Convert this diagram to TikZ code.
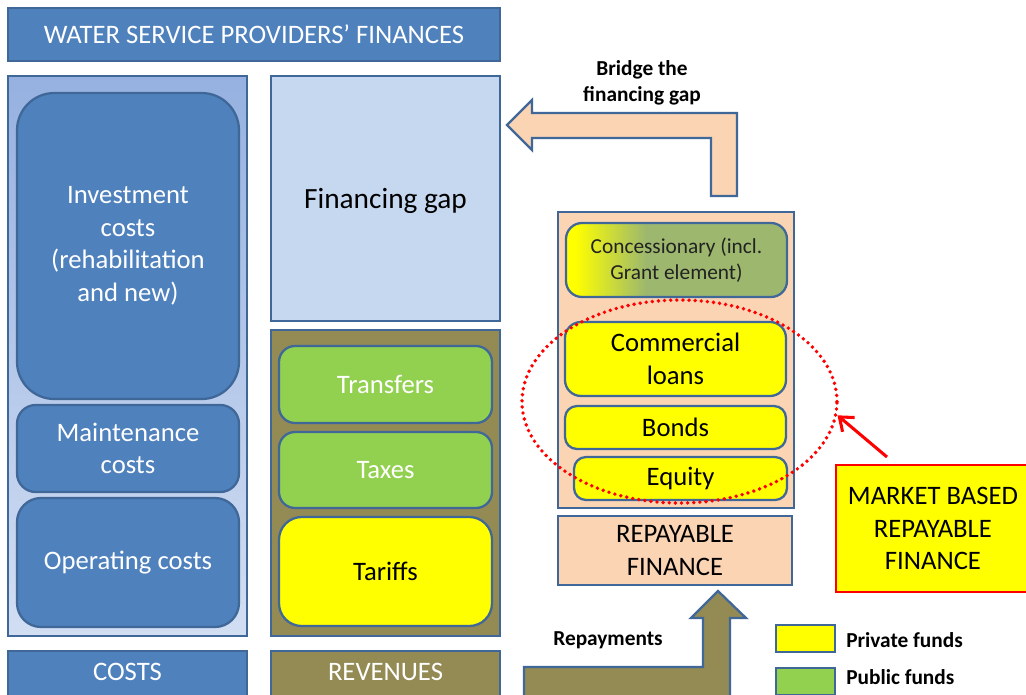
\documentclass[tikz,border=0pt]{standalone}
\usepackage{fontspec}
\setmainfont{Carlito}
\usetikzlibrary{fit,arrows.meta,shapes.geometric}
\definecolor{dblue}{HTML}{4F81BD}
\definecolor{bord}{HTML}{3F6798}
\definecolor{gaptint}{HTML}{C6D8F0}
\definecolor{coltop}{HTML}{96B1E0}
\definecolor{colbot}{HTML}{D2DEF2}
\definecolor{olive}{HTML}{948A54}
\definecolor{pgreen}{HTML}{92D050}
\definecolor{pyellow}{HTML}{FFFF00}
\definecolor{peach}{HTML}{FBD4B4}
\definecolor{concg}{HTML}{9DB86E}
\definecolor{mred}{HTML}{FF0000}
\definecolor{ctext}{HTML}{222222}
\pgfdeclarehorizontalshading{concshade}{100bp}{color(0bp)=(pyellow); color(27bp)=(pyellow); color(43bp)=(concg); color(100bp)=(concg)}
\tikzset{
  frame/.style={draw=bord, line width=1.7pt, inner sep=0pt},
  rbox/.style={frame, rounded corners=#1},
  rbox/.default=11pt,
  headbox/.style={frame, line width=1.4pt},
  tx/.style={inner sep=0pt, align=center, font=\fontsize{20}{24.4}\selectfont},
  wtx/.style={tx, text=white},
  btx/.style={tx, text=black},
  blockarrow/.style={draw=bord, line width=1.7pt, line join=miter},
  boldlabel/.style={font=\bfseries\fontsize{16}{19.5}\selectfont, align=center, inner sep=0pt},
  legbox/.style={draw=bord, line width=1.7pt, inner sep=0pt}
}
\begin{document}
\begin{tikzpicture}[x=0.75pt,y=-0.75pt]
\clip (0,0) rectangle (1026,694);
\fill[white] (0,0) rectangle (1026,694);

% title
\node[headbox, fill=dblue, fit={(8,8) (500,61)}] (title) {};
\node[wtx] (titleT) at (title.center) {WATER SERVICE PROVIDERS’ FINANCES};

% costs column
\node[frame, top color=coltop, bottom color=colbot, fit={(8,76) (247,636)}] (costcol) {};
\node[rbox=28pt, fill=dblue, fit={(17,93) (239,399)}] (invest) {};
\node[wtx] (investT) at (invest.center) {Investment\\costs\\(rehabilitation\\and new)};
\node[rbox=14pt, fill=dblue, fit={(17,405) (239,492)}] (maint) {};
\node[wtx] (maintT) at (maint.center) {Maintenance\\costs};
\node[rbox=18pt, fill=dblue, fit={(17,498) (239,627)}] (oper) {};
\node[wtx] (operT) at (oper.center) {Operating costs};
\node[headbox, fill=dblue, fit={(8,651) (247,697)}] (costs) {};
\node[wtx] (costsT) at ([yshift=1.5pt]costs.center) {COSTS};

% revenues column
\node[frame, fill=gaptint, fit={(271,76) (500,321)}] (gap) {};
\node[btx, font=\fontsize{22}{26}\selectfont] (gapT) at ([yshift=-2pt]gap.center) {Financing gap};
\node[frame, fill=olive, fit={(271,330) (500,636)}] (revcol) {};
\node[rbox=12pt, fill=pgreen, fit={(279,346) (492,423)}] (transfers) {};
\node[wtx] (transfersT) at (transfers.center) {Transfers};
\node[rbox=12pt, fill=pgreen, fit={(279,432) (492,508)}] (taxes) {};
\node[wtx] (taxesT) at (taxes.center) {Taxes};
\node[rbox=17pt, fill=pyellow, fit={(279,517) (492,626)}] (tariffs) {};
\node[btx] (tariffsT) at (tariffs.center) {Tariffs};
\node[headbox, fill=olive, fit={(271,651) (500,697)}] (revenues) {};
\node[wtx] (revenuesT) at ([yshift=1.5pt]revenues.center) {REVENUES};

% repayable finance column
\node[frame, fill=peach, fit={(558,212) (794,508)}] (repcol) {};
\node[rbox=12pt, shading=concshade, fit={(566,223) (787,297)}] (conc) {};
\node[btx, text=ctext, font=\fontsize{16}{19.5}\selectfont] (concT) at (conc.center) {Concessionary (incl.\\Grant element)};
\node[rbox=12pt, fill=pyellow, fit={(565,322) (786,396)}] (comm) {};
\node[btx] (commT) at (comm.center) {Commercial\\loans};
\node[rbox=9pt, fill=pyellow, fit={(565,406) (786,449)}] (bonds) {};
\node[btx] (bondsT) at (bonds.center) {Bonds};
\node[rbox=9pt, fill=pyellow, fit={(574,457) (787,500)}] (equity) {};
\node[btx] (equityT) at (equity.center) {Equity};
\node[frame, fill=peach, fit={(558,516) (792,585)}] (repay) {};
\node[btx] (repayT) at (repay.center) {REPAYABLE\\FINANCE};

% market based box
\node[draw=mred, line width=1.8pt, fill=pyellow, inner sep=0pt, fit={(836,465) (1032,592)}] (market) {};
\node[btx] (marketT) at ([xshift=-0.8pt]market.center) {MARKET BASED\\REPAYABLE\\FINANCE};

% dotted ellipse
\node[ellipse, draw=mred, line width=2.9pt, dash pattern=on 0pt off 4.6pt, line cap=round, minimum width=315*0.75pt, minimum height=203*0.75pt, inner sep=0pt] (ell) at (679.5,401.5) {};

% red arrow
\coordinate (redtail) at (887,457);
\draw[mred, line width=2.3pt, -{Straight Barb[length=9pt,width=14pt]}] (redtail) -- (ell.-5);

% bridge arrow
\path[blockarrow, fill=peach] (711,196) -- (711,138) -- (532,138) -- (532,150) -- (507,125) -- (532,100) -- (532,113) -- (737,113) -- (737,196) -- cycle;
\node[boldlabel] (bridge) at (642,83) {Bridge the\\financing gap};

% repayments arrow
\path[blockarrow, fill=olive] (524,667) -- (703,667) -- (703,618) -- (691,618) -- (718,591) -- (746,618) -- (730,618) -- (730,697) -- (524,697) -- cycle;
\node[boldlabel] (repaylbl) at (608,640) {Repayments};

% legend
\node[legbox, fill=pyellow, fit={(776,625) (835,652)}] (legpriv) {};
\node[legbox, fill=pgreen, fit={(776,668) (835,695)}] (legpub) {};
\node[boldlabel, anchor=west] (legprivt) at (846,640) {Private funds};
\node[boldlabel, anchor=west] (legpubt) at (846,677) {Public funds};
\end{tikzpicture}
\end{document}
